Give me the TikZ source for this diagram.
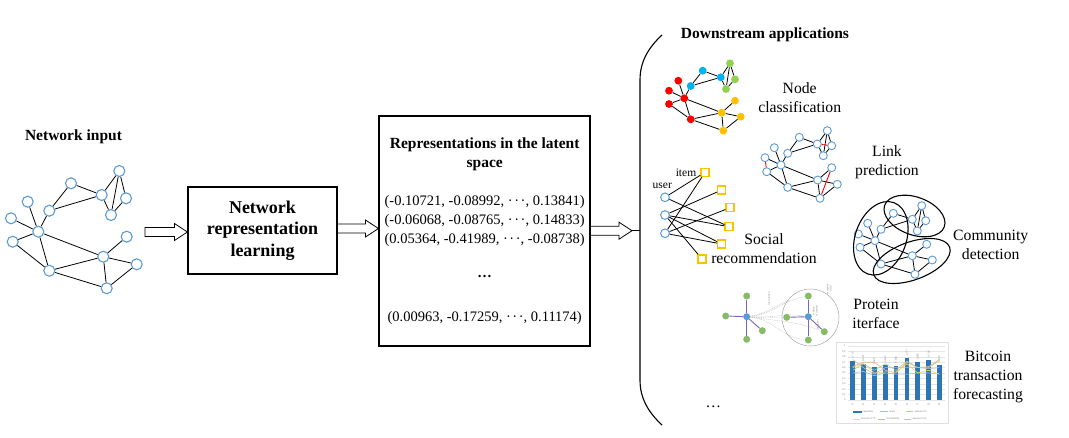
\documentclass[tikz,border=0pt]{standalone}
\usepackage{fontspec}
\setmainfont{Liberation Serif}
\usetikzlibrary{calc}
\definecolor{nblue}{HTML}{5B9BD5}
\definecolor{nred}{HTML}{FF0000}
\definecolor{ncyan}{HTML}{00B0F0}
\definecolor{ngreen}{HTML}{92D050}
\definecolor{nyellow}{HTML}{FFC000}
\definecolor{pgreen}{HTML}{86BB68}
\definecolor{ppurple}{HTML}{7B64C0}
\definecolor{barblue}{HTML}{2E75B6}
\definecolor{cstatic}{HTML}{9DC3E6}
\definecolor{corange}{HTML}{F4B183}
\definecolor{cyell}{HTML}{FFD966}
\definecolor{cgreen}{HTML}{A9D18E}
\definecolor{cgray}{HTML}{BFBFBF}
\newcommand\hollowarrow[2]{\draw[harrow] let \p1=(#1), \p2=(#2) in
  (\x1,\y2+4.5pt) -- (\x2-13pt,\y2+4.5pt) -- (\x2-13pt,\y2+8.5pt) -- (\x2,\y2) --
  (\x2-13pt,\y2-8.5pt) -- (\x2-13pt,\y2-4.5pt) -- (\x1,\y2-4.5pt) -- cycle;}
\def\netE{A/C,A/D,A/G,C/G,D/G,B/C,B/F,F/C,E/I,H/I,F/I,J/I,J/N,I/N,I/L,N/L,N/O,L/K,L/M,L/O,M/O}
\begin{document}
\begin{tikzpicture}[x=1pt,y=-1pt,
  harrow/.style={draw=black,fill=white,line width=0.8pt,line join=miter},
  boxn/.style={draw=black,line width=1.1pt,rectangle,inner sep=0},
  lnode/.style={circle,draw=nblue,fill=white,line width=1.1pt,minimum size=11pt,inner sep=0},
  cnode/.style={circle,minimum size=7.8pt,inner sep=0},
  snode/.style={circle,draw=nblue,fill=white,line width=0.9pt,minimum size=8pt,inner sep=0},
  unode/.style={circle,draw=nblue,fill=white,line width=1pt,minimum size=8.7pt,inner sep=0},
  inode/.style={rectangle,draw=nyellow,fill=white,line width=1.3pt,minimum size=8pt,inner sep=0},
  pnode/.style={circle,fill=pgreen,minimum size=7pt,inner sep=0},
  pcnode/.style={circle,fill=nblue,minimum size=7pt,inner sep=0},
  edge/.style={black,line width=0.8pt},
  pedge/.style={ppurple,line width=0.9pt},
  pdash/.style={gray!55,line width=0.35pt,dash pattern=on 1pt off 0.8pt},
  lbl/.style={align=center,inner sep=0,font=\fontsize{15.7}{19}\selectfont},
  ttl/.style={inner sep=0,font=\fontsize{15.5}{18.3}\selectfont\bfseries},
  tinyt/.style={inner sep=0.3pt,font=\fontsize{2.8}{3.2}\selectfont,text=gray},
  cline/.style={line width=0.6pt}]
\useasboundingbox (0,0) rectangle (1069,437);
\fill[white] (0,0) rectangle (1069,437);

% ---------- left network ----------
\node[ttl] (netin) at (73.5,136.7) {Network input};
\foreach \n/\x/\y in {A/119.3/171,B/71/183.3,C/101.7/195,D/126/198.3,E/27.7/201.7,
  F/49.3/210.7,G/111/215,H/11/218.3,I/38.3/231.7,J/12.7/241.7,K/126.7/236.7,
  L/103.3/256.7,M/136.7/264.3,N/49.3/270.7,O/106.7/288.3}
  \node[lnode] (L\n) at (\x,\y) {};
\foreach \u/\v in \netE \draw[edge] (L\u) -- (L\v);

% ---------- boxes ----------
\node[boxn,minimum width=149pt,minimum height=87pt,align=center,
  font=\fontsize{18}{21.7}\selectfont\bfseries] (nrl) at (262.5,230.5)
  {Network\\representation\\learning};
\node[boxn,minimum width=211pt,minimum height=230pt] (rep) at (484.5,231) {};
\node[ttl,align=center] (reptitle) at (484.7,154.2) {Representations in the latent\\space};
\node[inner sep=0,align=center,font=\fontsize{14.5}{19.2}\selectfont] (vecs) at (484.7,220.8)
  {(-0.10721, -0.08992, ·\kern1.6pt·\kern1.6pt·, 0.13841)\\
   (-0.06068, -0.08765, ·\kern1.6pt·\kern1.6pt·, 0.14833)\\
   (0.05364, -0.41989, ·\kern1.6pt·\kern1.6pt·, -0.08738)};
\node[inner sep=0,font=\fontsize{14.5}{17}\selectfont\bfseries] (vdots) at (484.7,276.7) {…};
\node[inner sep=0,font=\fontsize{14.5}{17}\selectfont] (vlast) at (484.7,318.3)
  {(0.00963, -0.17259, ·\kern1.6pt·\kern1.6pt·, 0.11174)};

% ---------- arrows ----------
\coordinate (a1s) at (145,232);
\coordinate (a3e) at (632,230.7);
\coordinate (brc) at (640,230.7);
\hollowarrow{a1s}{nrl.west |- a1s}
\coordinate (a2y) at (0,228.5);
\hollowarrow{nrl.east |- a2y}{rep.west |- a2y}
\hollowarrow{rep.east |- a3e}{a3e}
\draw[line width=1.3pt] (a3e) -- (brc);

% ---------- brace ----------
\draw[line width=1.1pt] (662,35) .. controls (648,48) and (640,62) .. (640,80)
  -- (640,380) .. controls (640,398) and (648,412) .. (662,425);
\node[ttl] (down) at (765,35) {Downstream applications};

% ---------- node classification ----------
\foreach \n/\x/\y/\c in {A/730/63.3/ngreen,B/702.7/70.7/ncyan,C/720.7/77.3/ncyan,
  D/735/79.3/ngreen,E/678.3/80.7/nred,F/690.7/86/ncyan,G/726/89/ngreen,H/669/90.7/nred,
  I/684.3/98.3/nred,J/669/104/nred,K/735/100.7/nyellow,L/721.7/112.7/nyellow,
  M/740.7/116.7/nyellow,N/690.7/119.3/nred,O/723.3/130.7/nyellow}
  \node[cnode,fill=\c] (C\n) at (\x,\y) {};
\foreach \u/\v in \netE \draw[edge] (C\u) -- (C\v);
\node[lbl] (lnc) at (799.7,97.2) {Node\\classification};

% ---------- link prediction ----------
\foreach \n/\x/\y in {A/827.3/130.7,B/799.3/137.3,C/817.3/144,D/831.7/145.7,E/774.3/147.7,
  F/787.7/153.3,G/823.3/155.7,H/765/157.7,I/781/165,K/831.7/167.7,J/766.7/171.7,
  L/817.7/180,M/837.3/184.3,N/787.7/187.3,O/820/198.3}
  \node[snode] (P\n) at (\x,\y) {};
\foreach \u/\v in \netE \draw[edge] (P\u) -- (P\v);
\foreach \u/\v in {H/J,C/D,K/O} \draw[red,line width=0.9pt] (P\u) -- (P\v);
\node[lbl] (llp) at (887,162) {Link\\prediction};

% ---------- community detection ----------
\foreach \n/\x/\y in {A/921.7/205.7,B/893.3/213.3,C/912.3/219.3,D/925.7/220.7,E/867.7/223.3,
  F/881/229.3,G/917.3/231,H/858.3/234,I/875/240.7,K/926.7/244.3,J/860/247.3,
  L/912.3/255.7,M/932.3/260,N/881/264,O/915/274.3}
  \node[snode] (Q\n) at (\x,\y) {};
\foreach \u/\v in \netE \draw[edge] (Q\u) -- (Q\v);
\draw[line width=1.1pt,rotate around={70:(880.8,238.3)}] (880.8,238.3) ellipse [x radius=38pt,y radius=25.5pt];
\draw[line width=1.1pt,rotate around={-20:(914.5,216)}] (914.5,216) ellipse [x radius=31.7pt,y radius=18.9pt];
\draw[line width=1.1pt,rotate around={20:(911.7,261)}] (911.7,261) ellipse [x radius=40.4pt,y radius=18.9pt];
\node[lbl] (lcd) at (990.7,244.5) {Community\\detection};

% ---------- social recommendation ----------
\foreach \n/\x/\y in {1/665/197.3,2/665/215,3/665/233.3}
  \node[unode] (U\n) at (\x,\y) {};
\node[inode] (T1) at (705,172.3) {};
\node[inode] (T2) at (721.7,190) {};
\node[inode] (T3) at (730,207.7) {};
\node[inode] (T4) at (729,226.7) {};
\node[inode] (T5) at (721.7,244) {};
\node[inode] (T6) at (702,259) {};
\foreach \u/\v in {1/1,1/4,2/2,2/4,2/5,2/6,3/1,3/3,3/5}
  \draw[black,line width=0.8pt] (U\u) -- (T\v);
\node[inner sep=0,font=\fontsize{11.5}{13}\selectfont] (litem) at (686,172.7) {item};
\node[inner sep=0,font=\fontsize{11.5}{13}\selectfont] (luser) at (662.3,185.7) {user};
\node[lbl] (lsr) at (764,249) {Social\\recommendation};

% ---------- protein interface ----------
\node[circle,draw=gray!70,line width=0.5pt,minimum size=57pt,inner sep=0] (pcirc) at (810.5,317.5) {};
\node[pcnode] (R0) at (746.7,316.7) {};
\foreach \n/\x/\y in {1/746.7/296,2/725.7/316,3/762.3/330.7,4/746.7/339.3}
  \node[pnode] (R\n) at (\x,\y) {};
\node[pcnode] (S0) at (808.3,316.7) {};
\foreach \n/\x/\y in {1/808.3/296,2/786.7/317.3,3/824.3/331.7,4/808.3/340}
  \node[pnode] (S\n) at (\x,\y) {};
\foreach \n in {1,...,4} \draw[pedge] (R0) -- (R\n);
\foreach \n in {1,...,4} \draw[pedge] (S0) -- (S\n);
\draw[pdash] (R0) to[out=5,in=190] (S1);
\draw[pdash] (R0) to[out=8,in=200] (790,300);
\draw[pdash] (R0) to[out=0,in=180] (S2);
\draw[pdash] (R0) to[out=-5,in=170] (S0);
\draw[pdash] (R0) to[out=-8,in=160] (S3);
\draw[pdash] (R0) to[out=-5,in=175] (S4);
\node[tinyt,rotate=90] (tconv) at (769,299) {convolution};
\node[tinyt,rotate=90,align=center] (tres) at (815,311) {residue\\of interest};
\node[tinyt,rotate=90,align=center] (trec) at (829,289) {receptive\\field};
\node[tinyt,rotate=90] (tnei) at (818,325) {neighbor};
\node[lbl] (lpi) at (876,313.8) {Protein\\iterface};

% ---------- bitcoin chart ----------
\draw[gray!25,line width=0.4pt] (836,341.7) rectangle (948.3,422.7);
\foreach \k in {0,...,10} {
  \draw[gray!20,line width=0.3pt] (848,{400-5.4*\k}) -- (945,{400-5.4*\k});
  \node[tinyt,anchor=east] at (846,{400-5.4*\k}) {\ifnum\k=10 1\else\ifnum\k=0 0\else 0.\k\fi\fi};
}
\foreach \x/\v [count=\i] in {852.7/0.723,863.3/0.667,874.3/0.608,885.3/0.646,896/0.638,
  907/0.777,917.7/0.695,928.7/0.744,939.3/0.648} {
  \fill[barblue] (\x-2.4,400) rectangle (\x+2.4,{400-54*\v});
  \node[tinyt,rotate=90,anchor=west] at (\x,{398-54*\v}) {\v};
  \node[tinyt] at (\x,405) {t\i};
}
\draw[cline,cstatic] (852.7,373) -- (863.3,371.4) -- (874.3,375.7) -- (885.3,373) -- (896,374.1) -- (907,374.1) -- (917.7,373) -- (928.7,373) -- (939.3,374.1);
\draw[cline,corange] (852.7,366.5) -- (863.3,362.2) -- (874.3,362.2) -- (885.3,370.3) -- (896,373) -- (907,362.2) -- (917.7,367.6) -- (928.7,366.5) -- (939.3,359.5);
\draw[cline,cyell] (852.7,367.6) -- (863.3,363.3) -- (874.3,373) -- (885.3,371.9) -- (896,371.9) -- (907,363.8) -- (917.7,373) -- (928.7,370.3) -- (939.3,374.1);
\draw[cline,cgreen] (852.7,370.3) -- (863.3,363.8) -- (874.3,370.3) -- (885.3,363.8) -- (896,370.3) -- (907,361.1) -- (917.7,367.6) -- (928.7,367.6) -- (939.3,360.6);
\draw[cline,cgray] (852.7,359.5) -- (863.3,367.6) -- (874.3,374.1) -- (885.3,367.6) -- (896,367.6) -- (907,367.6) -- (917.7,367.6) -- (928.7,368.7) -- (939.3,367.6);
\fill[barblue] (852.7,410.7) rectangle (861.7,412.7);
\node[tinyt,anchor=west] at (862,411.7) {ensemble};
\draw[cline,cstatic] (880,411.7) -- (888.3,411.7);
\node[tinyt,anchor=west] at (889,411.7) {static};
\draw[cline,corange] (906,411.7) -- (913.3,411.7);
\node[tinyt,anchor=west] at (914,411.7) {amount 0.5};
\draw[cline,cyell] (852.7,419) -- (860,419);
\node[tinyt,anchor=west] at (860.7,419) {amount 0.75};
\draw[cline,cgreen] (878,419) -- (885.3,419);
\node[tinyt,anchor=west] at (886,419) {reachability};
\draw[cline,cgray] (904,419) -- (911.3,419);
\node[tinyt,anchor=west] at (912,419) {amount 0.25};
\node[lbl,align=center] (lbt) at (988,377) {Bitcoin\\transaction\\forecasting};

\node[inner sep=0,font=\fontsize{15.5}{18}\selectfont] (ldots) at (713.3,406.7) {…};
\end{tikzpicture}
\end{document}
